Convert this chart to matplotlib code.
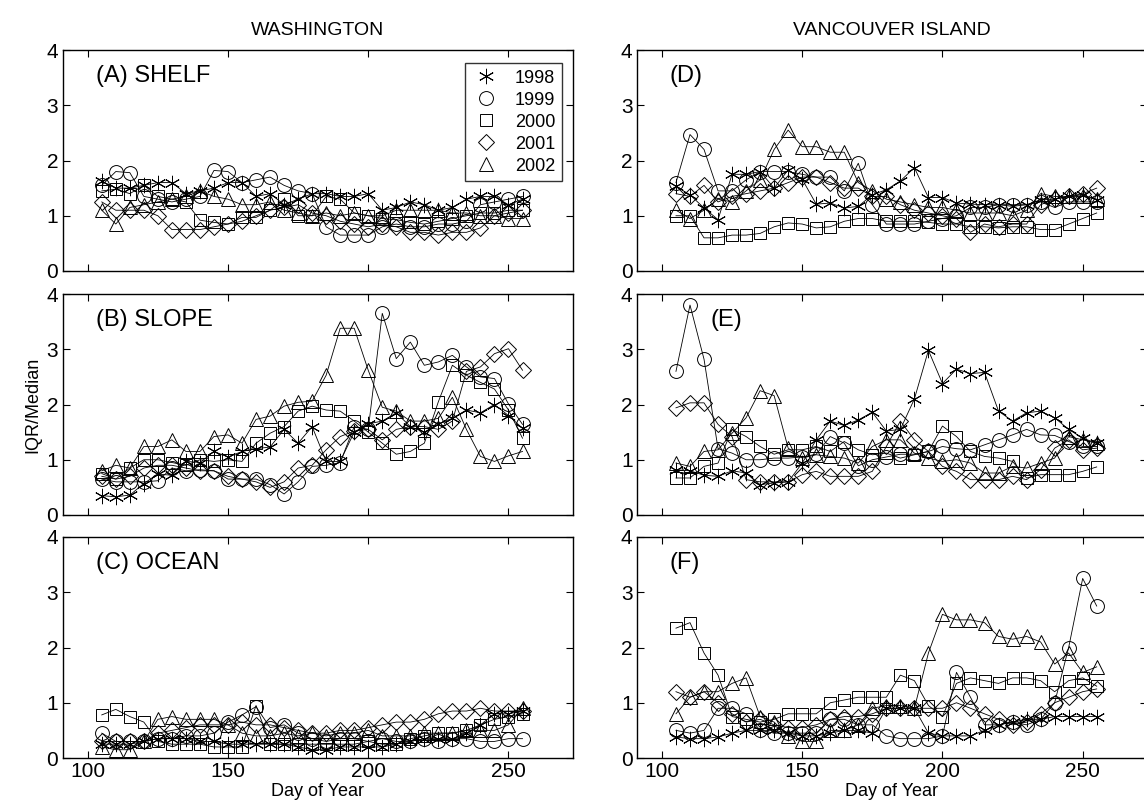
import matplotlib
matplotlib.use("Agg")
import matplotlib.pyplot as plt
from matplotlib.lines import Line2D

plt.rcParams["font.family"] = ["Liberation Sans", "DejaVu Sans"]

DAYS = [105, 110, 115, 120, 125, 130, 135, 140, 145, 150, 155, 160, 165, 170, 175, 180,
        185, 190, 195, 200, 205, 210, 215, 220, 225, 230, 235, 240, 245, 250, 255]
YEARS = [1998, 1999, 2000, 2001, 2002]
# matlab style markers: asterisk, circle, square, diamond, triangle
MARKERS = {1998: (6, 2, 0), 1999: "o", 2000: "s", 2001: "D", 2002: "^"}
MSIZE = {1998: 11, 1999: 10, 2000: 9, 2001: 8, 2002: 10}

# Washington
WA_SHELF = {
    1998: [1.62, 1.5, 1.5, 1.55, 1.6, 1.6, 1.4, 1.45, 1.5, 1.6, 1.6, 1.35, 1.4, 1.2, 1.3, 1.4,
           1.4, 1.35, 1.35, 1.4, 1.1, 1.15, 1.25, 1.2, 1.1, 1.15, 1.3, 1.35, 1.35, 1.2, 1.3],
    1999: [1.55, 1.8, 1.78, 1.35, 1.3, 1.25, 1.3, 1.35, 1.82, 1.8, 1.6, 1.65, 1.7, 1.55, 1.45, 1.4,
           0.8, 0.65, 0.65, 0.65, 0.8, 0.85, 0.8, 0.8, 0.85, 0.85, 0.9, 1.2, 1.25, 1.3, 1.35],
    2000: [1.45, 1.48, 1.4, 1.55, 1.35, 1.3, 1.25, 0.92, 0.88, 0.85, 0.97, 0.97, 1.1, 1.3, 1.0, 1.0,
           1.35, 1.3, 1.05, 1.0, 0.95, 0.93, 0.88, 0.85, 0.9, 0.95, 1.0, 1.05, 1.05, 1.1, 1.1],
    2001: [1.25, 1.1, 1.1, 1.1, 1.0, 0.75, 0.75, 0.75, 0.8, 0.85, 0.9, 1.0, 1.1, 1.15, 1.2, 1.05,
           1.0, 0.9, 0.85, 0.8, 0.85, 0.8, 0.7, 0.7, 0.65, 0.7, 0.7, 0.78, 1.0, 1.05, 1.1],
    2002: [1.1, 0.85, 1.15, 1.2, 1.25, 1.3, 1.35, 1.45, 1.35, 1.3, 1.2, 1.2, 1.25, 1.1, 1.05, 1.0,
           1.05, 1.0, 1.05, 1.0, 1.0, 1.1, 1.1, 1.1, 1.1, 1.05, 1.05, 1.0, 1.0, 0.95, 0.95],
}
WA_SLOPE = {
    1998: [0.35, 0.33, 0.36, 0.57, 0.74, 0.72, 0.97, 0.95, 1.15, 1.05, 1.15, 1.2, 1.23, 1.55, 1.3, 1.6,
           0.97, 0.97, 1.5, 1.65, 1.7, 1.85, 1.6, 1.5, 1.65, 1.75, 1.9, 1.85, 2.0, 1.8, 1.57],
    1999: [0.65, 0.6, 0.6, 0.6, 0.62, 0.85, 0.8, 0.82, 0.8, 0.65, 0.65, 0.65, 0.55, 0.38, 0.6, 0.88,
           0.9, 0.95, 1.6, 1.55, 3.65, 2.83, 3.13, 2.71, 2.77, 2.89, 2.68, 2.5, 2.47, 2.01, 1.64],
    2000: [0.75, 0.65, 0.85, 1.0, 1.0, 0.95, 0.9, 1.0, 0.97, 1.0, 0.97, 1.3, 1.48, 1.6, 1.88, 1.97,
           1.9, 1.88, 1.7, 1.5, 1.3, 1.1, 1.15, 1.3, 2.05, 2.71, 2.53, 2.4, 2.28, 1.9, 1.39],
    2001: [0.7, 0.65, 0.7, 0.85, 0.9, 0.9, 0.85, 0.8, 0.8, 0.7, 0.65, 0.6, 0.5, 0.6, 0.85, 0.9,
           1.18, 1.42, 1.52, 1.55, 1.36, 1.55, 1.6, 1.6, 1.55, 1.7, 2.6, 2.68, 2.92, 3.01, 2.62],
    2002: [0.8, 0.9, 0.85, 1.24, 1.24, 1.36, 1.15, 1.15, 1.42, 1.45, 1.3, 1.73, 1.79, 1.97, 2.04, 2.06,
           2.53, 3.38, 3.38, 2.62, 1.95, 1.88, 1.7, 1.7, 1.75, 2.13, 1.55, 1.06, 0.97, 1.07, 1.15],
}
WA_OCEAN = {
    1998: [0.25, 0.25, 0.25, 0.3, 0.35, 0.35, 0.35, 0.3, 0.3, 0.25, 0.25, 0.25, 0.25, 0.25, 0.2, 0.15,
           0.15, 0.2, 0.2, 0.2, 0.2, 0.25, 0.3, 0.35, 0.35, 0.35, 0.45, 0.6, 0.8, 0.8, 0.85],
    1999: [0.45, 0.3, 0.3, 0.3, 0.35, 0.35, 0.4, 0.4, 0.45, 0.65, 0.78, 0.93, 0.55, 0.6, 0.45, 0.35,
           0.3, 0.35, 0.35, 0.3, 0.35, 0.3, 0.3, 0.35, 0.3, 0.35, 0.35, 0.3, 0.3, 0.35, 0.35],
    2000: [0.78, 0.88, 0.75, 0.65, 0.3, 0.25, 0.25, 0.25, 0.2, 0.2, 0.2, 0.95, 0.25, 0.25, 0.25, 0.25,
           0.25, 0.25, 0.25, 0.3, 0.25, 0.25, 0.35, 0.4, 0.45, 0.45, 0.5, 0.6, 0.7, 0.75, 0.8],
    2001: [0.3, 0.3, 0.3, 0.3, 0.45, 0.5, 0.55, 0.6, 0.6, 0.6, 0.65, 0.6, 0.6, 0.55, 0.5, 0.45,
           0.45, 0.5, 0.5, 0.55, 0.6, 0.65, 0.65, 0.7, 0.8, 0.85, 0.85, 0.9, 0.85, 0.85, 0.85],
    2002: [0.2, 0.15, 0.15, 0.3, 0.7, 0.75, 0.7, 0.7, 0.7, 0.6, 0.45, 0.4, 0.4, 0.45, 0.4, 0.45,
           0.4, 0.45, 0.45, 0.5, 0.4, 0.4, 0.4, 0.45, 0.45, 0.45, 0.5, 0.5, 0.5, 0.6, 0.9],
}

# Vancouver Island
VI_SHELF = {
    1998: [1.53, 1.38, 1.14, 0.93, 1.75, 1.75, 1.8, 1.5, 1.83, 1.66, 1.21, 1.23, 1.14, 1.17, 1.38, 1.47,
           1.63, 1.87, 1.33, 1.33, 1.23, 1.21, 1.2, 1.2, 1.17, 1.2, 1.29, 1.3, 1.35, 1.38, 1.29],
    1999: [1.6, 2.47, 2.2, 1.45, 1.45, 1.65, 1.8, 1.8, 1.8, 1.75, 1.7, 1.7, 1.45, 1.95, 1.2, 0.85,
           0.85, 0.85, 0.9, 0.95, 1.0, 1.15, 1.15, 1.2, 1.2, 1.2, 1.25, 1.15, 1.25, 1.25, 1.25],
    2000: [1.0, 1.0, 0.6, 0.6, 0.65, 0.65, 0.68, 0.8, 0.87, 0.85, 0.78, 0.8, 0.9, 0.95, 0.95, 0.9,
           0.9, 0.9, 0.88, 0.85, 0.85, 0.8, 0.8, 0.78, 0.8, 0.8, 0.75, 0.75, 0.85, 0.95, 1.05],
    2001: [1.4, 1.35, 1.55, 1.25, 1.35, 1.4, 1.45, 1.5, 1.6, 1.7, 1.7, 1.6, 1.5, 1.5, 1.35, 1.35,
           1.2, 1.1, 1.05, 1.0, 0.95, 0.7, 0.85, 0.8, 0.85, 0.85, 1.2, 1.3, 1.35, 1.4, 1.5],
    2002: [1.1, 0.95, 1.1, 1.3, 1.25, 1.45, 1.65, 2.2, 2.55, 2.25, 2.25, 2.15, 2.15, 1.6, 1.45, 1.3,
           1.25, 1.2, 1.15, 1.15, 1.1, 1.05, 1.05, 1.05, 1.0, 1.1, 1.4, 1.35, 1.35, 1.35, 1.3],
}
VI_SLOPE = {
    1998: [0.82, 0.8, 0.72, 0.7, 0.8, 0.76, 0.55, 0.58, 0.6, 0.94, 1.36, 1.7, 1.62, 1.72, 1.86, 1.52,
           1.55, 2.1, 2.98, 2.38, 2.64, 2.56, 2.58, 1.88, 1.7, 1.85, 1.88, 1.76, 1.55, 1.39, 1.3],
    1999: [2.6, 3.8, 2.82, 1.2, 1.12, 1.0, 1.0, 1.03, 1.03, 1.05, 1.1, 1.42, 1.3, 0.89, 1.0, 1.05,
           1.1, 1.1, 1.15, 1.24, 1.2, 1.18, 1.27, 1.36, 1.45, 1.55, 1.45, 1.44, 1.33, 1.24, 1.24],
    2000: [0.67, 0.67, 0.88, 0.94, 1.55, 1.42, 1.24, 1.1, 1.18, 1.18, 1.24, 1.15, 1.33, 1.18, 1.09, 1.12,
           1.03, 1.09, 1.15, 1.61, 1.42, 1.15, 1.06, 1.03, 0.97, 0.67, 0.73, 0.73, 0.73, 0.79, 0.87],
    2001: [1.94, 2.03, 2.03, 1.64, 1.42, 0.64, 0.6, 0.6, 0.6, 0.73, 0.79, 0.7, 0.7, 0.7, 0.79, 1.24,
           1.7, 1.36, 1.15, 0.88, 0.79, 0.64, 0.64, 0.64, 0.7, 0.64, 0.82, 1.21, 1.36, 1.18, 1.21],
    2002: [0.94, 0.88, 1.15, 1.18, 1.48, 1.76, 2.25, 2.16, 1.21, 1.03, 1.09, 1.06, 1.03, 0.94, 1.24, 1.36,
           1.36, 1.12, 1.03, 0.97, 1.0, 0.94, 0.76, 0.76, 0.88, 0.85, 0.94, 1.03, 1.42, 1.36, 1.3],
}
VI_OCEAN = {
    1998: [0.38, 0.35, 0.35, 0.38, 0.45, 0.5, 0.5, 0.5, 0.45, 0.4, 0.4, 0.45, 0.5, 0.5, 0.45, 0.9,
           0.9, 0.9, 0.45, 0.4, 0.4, 0.4, 0.5, 0.6, 0.65, 0.7, 0.7, 0.75, 0.75, 0.75, 0.75],
    1999: [0.5, 0.45, 0.5, 0.9, 0.9, 0.8, 0.5, 0.45, 0.45, 0.45, 0.45, 0.7, 0.7, 0.6, 0.6, 0.4,
           0.35, 0.35, 0.35, 0.4, 1.55, 1.1, 0.6, 0.6, 0.65, 0.6, 0.7, 1.0, 2.0, 3.25, 2.75],
    2000: [2.35, 2.45, 1.9, 1.5, 0.75, 0.7, 0.65, 0.7, 0.8, 0.8, 0.8, 1.0, 1.05, 1.1, 1.1, 1.1,
           1.5, 1.4, 0.95, 0.75, 1.35, 1.45, 1.4, 1.35, 1.45, 1.45, 1.4, 1.2, 1.4, 1.45, 1.3],
    2001: [1.2, 1.1, 1.2, 1.0, 0.8, 0.65, 0.7, 0.6, 0.55, 0.55, 0.6, 0.7, 0.75, 0.75, 0.8, 0.9,
           0.9, 0.9, 0.9, 0.9, 1.0, 0.9, 0.8, 0.7, 0.6, 0.65, 0.8, 1.0, 1.1, 1.2, 1.25],
    2002: [0.8, 1.1, 1.2, 1.2, 1.35, 1.45, 0.75, 0.65, 0.4, 0.3, 0.3, 0.5, 0.5, 0.6, 0.9, 0.95,
           0.95, 0.9, 1.9, 2.6, 2.5, 2.5, 2.45, 2.2, 2.15, 2.2, 2.1, 1.7, 1.9, 1.55, 1.65],
}

PANELS = [
    (WA_SHELF, "(A) SHELF", 0.065), (VI_SHELF, "(D)", 0.065),
    (WA_SLOPE, "(B) SLOPE", 0.065), (VI_SLOPE, "(E)", 0.145),
    (WA_OCEAN, "(C) OCEAN", 0.065), (VI_OCEAN, "(F)", 0.065),
]

W, H = 1144, 808
fig = plt.figure(figsize=(W / 100, H / 100), dpi=100)

lefts = [62.5 / W, 636.7 / W]
width = 510.5 / W
tops = [50, 294, 537]
ph = 221


def marker_style(yr):
    return dict(marker=MARKERS[yr], markersize=MSIZE[yr], markerfacecolor="none",
                markeredgecolor="black", markeredgewidth=0.7)


for i, (data, label, lx) in enumerate(PANELS):
    row, col = divmod(i, 2)
    ax = fig.add_axes([lefts[col], 1 - (tops[row] + ph) / H, width, ph / H])
    for yr in YEARS:
        ax.plot(DAYS, data[yr], color="black", linewidth=0.6, **marker_style(yr))
    ax.set_xlim(91, 273)
    ax.set_ylim(0, 4)
    ax.set_xticks([100, 150, 200, 250])
    ax.set_yticks([0, 1, 2, 3, 4])
    ax.tick_params(direction="in", top=True, right=True, labelsize=15, length=5, width=0.8, pad=3)
    for s in ax.spines.values():
        s.set_linewidth(1.0)
    ax.text(lx, 0.93, label, transform=ax.transAxes, fontsize=17, va="top", ha="left")
    if row < 2:
        ax.set_xticklabels([])
    else:
        ax.set_xlabel("Day of Year", fontsize=13, labelpad=1)
    if row == 0:
        ax.set_title("WASHINGTON" if col == 0 else "VANCOUVER ISLAND", fontsize=14, pad=11)
    if row == 1 and col == 0:
        ax.set_ylabel("IQR/Median", fontsize=13, labelpad=4)
    if i == 0:
        handles = [Line2D([], [], linestyle="none", **marker_style(yr)) for yr in YEARS]
        leg = ax.legend(handles, [str(y) for y in YEARS], loc="upper right",
                        bbox_to_anchor=(0.978, 0.94), fontsize=13, frameon=True,
                        fancybox=False, edgecolor="black", handlelength=1.6,
                        handletextpad=0.8, labelspacing=0.28, borderpad=0.35,
                        borderaxespad=0)
        leg.get_frame().set_linewidth(1.0)

fig.savefig("out.png", dpi=100)
